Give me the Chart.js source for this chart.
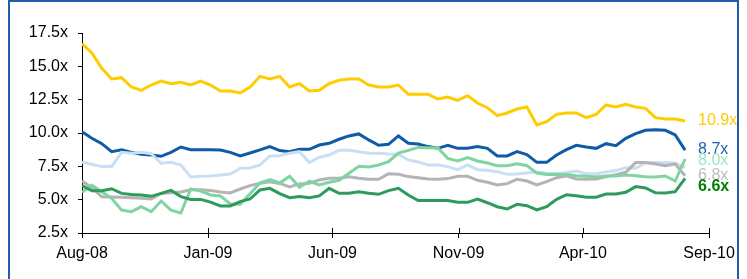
<!DOCTYPE html>
<html>
<head>
<meta charset="utf-8">
<script src="https://cdn.jsdelivr.net/npm/chart.js@4.4.1/dist/chart.umd.min.js"></script>
<style>
    body { margin: 0; background: #fff; }
    #marco { position: absolute; left: 0; top: 0; width: 747px; height: 279px; overflow: hidden; }
    #grafica { position: absolute; left: 0; top: 0; }
    #borde { position: absolute; left: 8px; top: 0; width: 727px; height: 300px; border: 2px solid #1F5FA8; pointer-events: none; }
</style>
</head>
<body>
<div id="marco">
    <canvas id="grafica" width="747" height="279"></canvas>
    <div id="borde"></div>
</div>
<script>
// eje x en dias desde el 1 de agosto de 2008
const tickDias = [0, 153, 304, 457, 608, 761];
const tickEtiquetas = ['Aug-08', 'Jan-09', 'Jun-09', 'Nov-09', 'Apr-10', 'Sep-10'];
const yTicks = [2.5, 5.0, 7.5, 10.0, 12.5, 15.0, 17.5];
const pasoDias = 12; // una lectura cada 12 dias

const amarillo = [16.7, 16.0, 14.85, 14.05, 14.15, 13.45, 13.2, 13.6, 13.9, 13.7, 13.8, 13.6, 13.9, 13.6, 13.15, 13.15,
    13.0, 13.45, 14.25, 14.05, 14.25, 13.45, 13.7, 13.15, 13.2, 13.7, 13.95, 14.05, 14.05, 13.6, 13.45, 13.45,
    13.6, 12.9, 12.9, 12.9, 12.55, 12.7, 12.45, 12.8, 12.25, 11.9, 11.3, 11.5, 11.8, 11.95, 10.6, 10.85,
    11.4, 11.5, 11.5, 11.15, 11.4, 12.1, 11.95, 12.15, 11.95, 11.85, 11.15, 11.05, 11.05, 10.9];
const azul = [10.1, 9.6, 9.2, 8.6, 8.75, 8.55, 8.4, 8.35, 8.25, 8.55, 8.95, 8.75, 8.75, 8.75, 8.73, 8.55,
    8.28, 8.5, 8.73, 8.98, 8.68, 8.6, 8.78, 8.78, 9.1, 9.23, 9.53, 9.78, 9.93, 9.48, 9.08, 9.15,
    9.78, 9.23, 9.18, 8.98, 8.85, 9.08, 8.85, 8.85, 8.98, 8.85, 8.28, 8.28, 8.6, 8.38, 7.8, 7.8,
    8.35, 8.75, 9.08, 8.95, 8.85, 9.2, 9.05, 9.6, 9.95, 10.2, 10.25, 10.2, 9.85, 8.72];
const celeste = [7.8, 7.65, 7.48, 7.48, 8.55, 8.48, 8.55, 8.45, 7.73, 7.8, 7.6, 6.7, 6.75, 6.78, 6.85, 6.92,
    7.35, 7.38, 7.6, 8.28, 8.3, 8.48, 8.6, 7.78, 8.18, 8.35, 8.7, 8.7, 8.6, 8.48, 8.48, 8.43,
    8.4, 7.98, 7.83, 7.6, 7.6, 7.48, 7.25, 7.6, 7.25, 7.2, 7.1, 6.9, 6.92, 7.0, 7.08, 6.98,
    6.95, 7.03, 7.15, 6.95, 6.95, 7.08, 7.18, 7.4, 7.35, 7.75, 7.78, 7.78, 7.73, 7.42];
const gris = [6.4, 5.9, 5.22, 5.2, 5.18, 5.15, 5.1, 5.05, 5.47, 5.52, 5.58, 5.75, 5.75, 5.68, 5.57, 5.5,
    5.8, 6.05, 6.23, 6.35, 6.22, 5.95, 6.18, 6.23, 6.48, 6.6, 6.6, 6.72, 6.6, 6.53, 6.53, 6.95,
    6.9, 6.73, 6.65, 6.55, 6.53, 6.58, 6.75, 6.75, 6.45, 6.3, 6.1, 6.2, 6.53, 6.4, 6.1, 6.35,
    6.65, 6.78, 6.55, 6.53, 6.55, 6.72, 6.88, 7.05, 7.78, 7.78, 7.68, 7.55, 7.68, 6.8];
const menta = [5.55, 6.1, 5.6, 5.1, 4.22, 4.1, 4.47, 4.1, 4.9, 4.22, 4.0, 5.8, 5.65, 5.35, 5.28, 4.68,
    4.65, 5.45, 6.25, 6.5, 6.25, 6.75, 5.93, 6.38, 6.1, 6.3, 6.45, 6.98, 7.5, 7.45, 7.6, 7.85,
    8.5, 8.7, 8.92, 8.9, 8.88, 8.1, 7.9, 8.15, 7.9, 7.75, 7.55, 7.55, 7.7, 7.55, 7.0, 6.88,
    6.9, 6.88, 6.8, 6.75, 6.7, 6.78, 6.78, 6.85, 6.8, 6.72, 6.7, 6.78, 6.4, 8.05];
const verde = [6.05, 5.67, 5.67, 5.82, 5.47, 5.38, 5.35, 5.25, 5.47, 5.7, 5.23, 5.02, 5.02, 4.82, 4.53, 4.53,
    4.85, 5.05, 5.73, 5.85, 5.45, 5.15, 5.23, 5.15, 5.28, 5.85, 5.48, 5.48, 5.6, 5.48, 5.4, 5.68,
    5.85, 5.35, 4.93, 4.93, 4.93, 4.93, 4.8, 4.8, 5.05, 4.77, 4.47, 4.3, 4.65, 4.55, 4.23, 4.47,
    5.03, 5.37, 5.3, 5.18, 5.18, 5.42, 5.42, 5.55, 5.98, 5.88, 5.52, 5.5, 5.6, 6.6];

// la primera serie queda encima
const series = [
    { datos: verde, color: '#2E9B5C', etiqueta: '6.6x', colorEtiqueta: '#008000', negrita: true },
    { datos: menta, color: '#80D4A2', etiqueta: '8.0x', colorEtiqueta: '#A3E4C2' },
    { datos: gris, color: '#B4B4B4', etiqueta: '6.8x', colorEtiqueta: '#BDBDBD' },
    { datos: celeste, color: '#C8DFF4', etiqueta: null },
    { datos: azul, color: '#0F5BA7', etiqueta: '8.7x', colorEtiqueta: '#2063B2' },
    { datos: amarillo, color: '#FFCC00', etiqueta: '10.9x', colorEtiqueta: '#FFCC00' }
];

const fuente = 'Liberation Sans, Arial, sans-serif';

function aPuntos(valores) {
    return valores.map((v, i) => ({ x: i * pasoDias, y: v }));
}

const marcasX = {
    id: 'marcasX',
    afterDraw(chart) {
        const ctx = chart.ctx;
        const abajo = chart.chartArea.bottom;
        ctx.save();
        ctx.strokeStyle = '#000';
        ctx.lineWidth = 1;
        tickDias.forEach((d) => {
            const x = Math.round(chart.scales.x.getPixelForValue(d)) + 0.5;
            ctx.beginPath();
            ctx.moveTo(x, abajo - 5);
            ctx.lineTo(x, abajo);
            ctx.stroke();
        });
        ctx.restore();
    }
};

const etiquetasFinales = {
    id: 'etiquetasFinales',
    afterDatasetsDraw(chart) {
        const ctx = chart.ctx;
        const escalaX = chart.scales.x;
        const escalaY = chart.scales.y;
        let items = [];
        series.slice().reverse().forEach((s) => {
            if (!s.etiqueta) return;
            const ultimo = s.datos.length - 1;
            items.push({
                s: s,
                x: escalaX.getPixelForValue(ultimo * pasoDias) + 13,
                y: escalaY.getPixelForValue(s.datos[ultimo])
            });
        });
        // separar las etiquetas que se tocan
        const ordenadas = items.slice().sort((a, b) => a.y - b.y);
        for (let k = 1; k < ordenadas.length; k++) {
            if (ordenadas[k].y < ordenadas[k - 1].y + 11) {
                ordenadas[k].y = ordenadas[k - 1].y + 11;
            }
        }
        ctx.save();
        ctx.textAlign = 'left';
        ctx.textBaseline = 'middle';
        items.forEach((it) => {
            ctx.font = (it.s.negrita ? 'bold ' : '') + '16px ' + fuente;
            ctx.fillStyle = it.s.colorEtiqueta;
            ctx.fillText(it.s.etiqueta, it.x, it.y);
        });
        ctx.restore();
    }
};

const ctx = document.getElementById('grafica').getContext('2d');
const myChart = new Chart(ctx, {
    type: 'line',
    data: {
        datasets: series.map((s, k) => ({
            data: aPuntos(s.datos),
            borderColor: s.color,
            borderWidth: 3,
            pointRadius: 0,
            tension: 0,
            fill: false,
            order: k
        }))
    },
    options: {
        responsive: false,
        devicePixelRatio: 1,
        animation: false,
        layout: { padding: { left: 0, right: 38, top: 33, bottom: 0 } },
        plugins: { legend: { display: false }, tooltip: { enabled: false } },
        scales: {
            x: {
                type: 'linear',
                min: 0,
                max: 761,
                afterBuildTicks: (s) => { s.ticks = tickDias.map((v) => ({ value: v })); },
                afterFit: (s) => { s.height = 46; },
                grid: { drawOnChartArea: false, drawTicks: true, tickLength: 5, color: '#000' },
                border: { color: '#000', width: 1 },
                ticks: {
                    autoSkip: false,
                    maxRotation: 0,
                    padding: 6,
                    color: '#000',
                    font: { family: fuente, size: 16 },
                    callback: (v) => tickEtiquetas[tickDias.indexOf(v)]
                }
            },
            y: {
                min: 2.5,
                max: 17.5,
                afterBuildTicks: (s) => { s.ticks = yTicks.map((v) => ({ value: v })); },
                afterFit: (s) => { s.width = 82; },
                grid: { drawOnChartArea: false, drawTicks: true, tickLength: 4, color: '#000' },
                border: { color: '#000', width: 1 },
                ticks: {
                    padding: 10,
                    color: '#000',
                    font: { family: fuente, size: 16 },
                    callback: (v) => Number(v).toFixed(1) + 'x'
                }
            }
        }
    },
    plugins: [marcasX, etiquetasFinales]
});
</script>
</body>
</html>
